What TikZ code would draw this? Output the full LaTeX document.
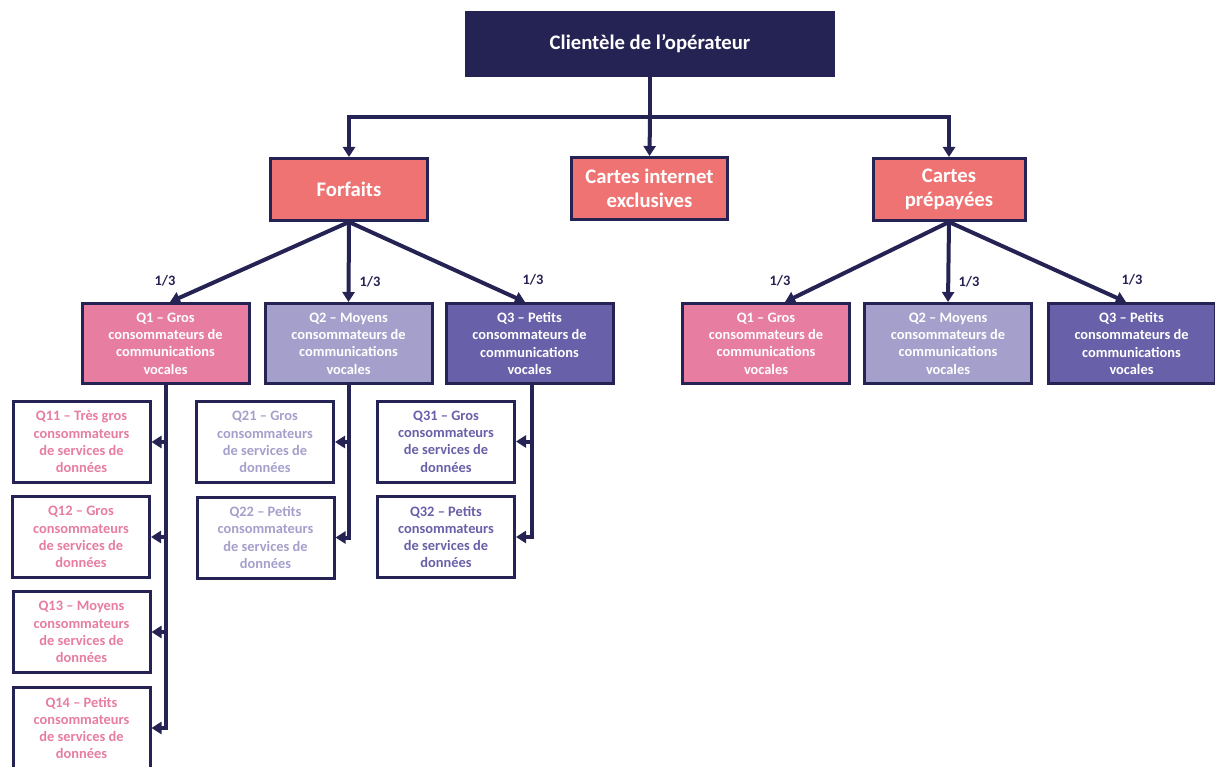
\documentclass[tikz,border=0pt]{standalone}
\usepackage{fontspec}
\setmainfont{Carlito}
\usetikzlibrary{arrows.meta}
\definecolor{navy}{RGB}{37,34,84}
\definecolor{salmon}{RGB}{239,115,115}
\definecolor{qpink}{RGB}{231,125,160}
\definecolor{qlav}{RGB}{165,160,203}
\definecolor{qpurp}{RGB}{104,96,168}
\begin{document}
\begin{tikzpicture}[x=1pt,y=-1pt,
  rootbox/.style={fill=navy,draw=navy,line width=1pt,text=white,inner sep=0pt,
    minimum width=369pt,minimum height=65pt,font=\fontsize{20.7}{24}\selectfont\bfseries},
  catbox/.style={fill=salmon,draw=navy,line width=3pt,text=white,inner sep=0pt,
    minimum height=62pt,align=center,font=\fontsize{20.7}{24}\selectfont\bfseries},
  qbox/.style={draw=navy,line width=3pt,text=white,inner sep=0pt,
    minimum width=167pt,minimum height=80pt,align=center,font=\fontsize{14.4}{17.3}\selectfont\bfseries},
  subbox/.style={draw=navy,fill=white,line width=3pt,inner sep=0pt,
    minimum width=137pt,minimum height=81pt,align=center,font=\fontsize{14.4}{17.3}\selectfont\bfseries},
  conn/.style={draw=navy,line width=4pt},
  arr/.style={conn,-{Triangle[length=10pt,width=12pt]}},
  frac/.style={text=navy,inner sep=0pt,font=\fontsize{14.4}{17}\selectfont\bfseries}
]
\useasboundingbox (0,0) rectangle (1215,767);
\fill[white] (0,0) rectangle (1215,767);

% root and categories
\node[rootbox] (root) at (650,44) {Clientèle de l’opérateur};
\node[catbox,minimum width=157pt] (forf) at (349,189.5) {Forfaits};
\node[catbox,minimum width=156pt] (inet) at (649.5,188.5) {Cartes internet\\exclusives};
\node[catbox,minimum width=152pt] (prep) at (949,189.5) {Cartes\\prépayées};

% level 2, left
\node[qbox,fill=qpink] (lq1) at (165.5,343.5) {Q1 – Gros\\consommateurs de\\communications\\vocales};
\node[qbox,fill=qlav] (lq2) at (348.5,343.5) {Q2 – Moyens\\consommateurs de\\communications\\vocales};
\node[qbox,fill=qpurp] (lq3) at (529.5,343.5) {Q3 – Petits\\consommateurs de\\communications\\vocales};

% level 2, right
\node[qbox,fill=qpink] (rq1) at (766,343.5) {Q1 – Gros\\consommateurs de\\communications\\vocales};
\node[qbox,fill=qlav] (rq2) at (948,343.5) {Q2 – Moyens\\consommateurs de\\communications\\vocales};
\node[qbox,fill=qpurp] (rq3) at (1131.5,343.5) {Q3 – Petits\\consommateurs de\\communications\\vocales};

% level 3
\node[subbox,text=qpink] (q11) at (81.5,442) {Q11 – Très gros\\consommateurs\\de services de\\données};
\node[subbox,text=qpink] (q12) at (81,537) {Q12 – Gros\\consommateurs\\de services de\\données};
\node[subbox,text=qpink] (q13) at (81.5,632) {Q13 – Moyens\\consommateurs\\de services de\\données};
\node[subbox,text=qpink] (q14) at (81.5,728) {Q14 – Petits\\consommateurs\\de services de\\données};
\node[subbox,text=qlav] (q21) at (265,442) {Q21 – Gros\\consommateurs\\de services de\\données};
\node[subbox,text=qlav] (q22) at (265.5,537.5) {Q22 – Petits\\consommateurs\\de services de\\données};
\node[subbox,text=qpurp] (q31) at (446,441.5) {Q31 – Gros\\consommateurs\\de services de\\données};
\node[subbox,text=qpurp] (q32) at (446,537) {Q32 – Petits\\consommateurs\\de services de\\données};

% top connectors
\coordinate (hub) at (650,117);
\draw[conn] (root.south) -- (hub);
\draw[arr] (hub) -| (forf.north);
\draw[arr] (hub) -- (inet.north);
\draw[arr] (hub) -| (prep.north);

% category to level 2
\coordinate (lt1) at (170,302);
\coordinate (lt3) at (525,302);
\coordinate (rt1) at (785,302);
\coordinate (rt3) at (1126,302);
\draw[arr] (forf.south) -- (lt1);
\draw[arr] (forf.south) -- (lq2.north);
\draw[arr] (forf.south) -- (lt3);
\draw[arr] (prep.south) -- (rt1);
\draw[arr] (prep.south) -- (rq2.north);
\draw[arr] (prep.south) -- (rt3);

\node[frac] (f1) at (165,281) {1/3};
\node[frac] (f2) at (370,282) {1/3};
\node[frac] (f3) at (533,280) {1/3};
\node[frac] (f4) at (780,281) {1/3};
\node[frac] (f5) at (969,282) {1/3};
\node[frac] (f6) at (1132,280) {1/3};

% level 2 to level 3
\draw[arr] (lq1.south) |- (q11.east);
\draw[arr] (lq1.south) |- (q12.east);
\draw[arr] (lq1.south) |- (q13.east);
\draw[arr] (lq1.south) |- (q14.east);
\draw[arr] (lq2.south) |- (q21.east);
\draw[arr] (lq2.south) |- (q22.east);
\draw[arr] ([xshift=2pt]lq3.south) |- (q31.east);
\draw[arr] ([xshift=2pt]lq3.south) |- (q32.east);
\end{tikzpicture}
\end{document}
